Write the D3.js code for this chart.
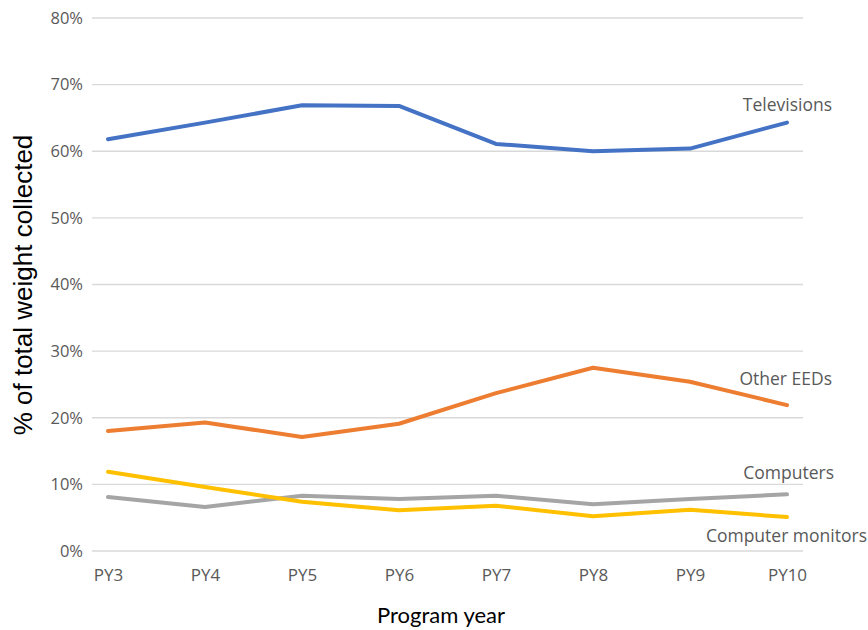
<!DOCTYPE html>
<html><head><meta charset="utf-8">
<script src="https://cdn.jsdelivr.net/npm/d3@7"></script>
<style>body{margin:0;background:#fff}</style>
</head><body><svg id="c" width="868" height="630"></svg>
<script>
const categories = ["PY3","PY4","PY5","PY6","PY7","PY8","PY9","PY10"];
const televisions = [61.8,64.3,66.9,66.8,61.1,60.0,60.4,64.3];
const otherEEDs   = [18.0,19.3,17.1,19.1,23.7,27.5,25.4,21.9];
const computers   = [8.1,6.6,8.3,7.8,8.3,7.0,7.8,8.5];
const monitors    = [11.9,9.6,7.4,6.1,6.8,5.2,6.2,5.1];
const yTicks = [0,10,20,30,40,50,60,70,80];
const seriesNames = ["Televisions","Other EEDs","Computers","Computer monitors"];
const seriesColors = ["#4472C4","#ED7D31","#A5A5A5","#FFC000"];
const seriesData = [televisions, otherEEDs, computers, monitors];

const svg = d3.select("#c");
const font = "'Open Sans', sans-serif";
const x = d3.scalePoint().domain(categories).range([92,803]).padding(0.165);
const y = d3.scaleLinear().domain([0,80]).range([551,18]);

// gridlines
svg.append("g").selectAll("line").data(yTicks).join("line")
  .attr("x1",92).attr("x2",803).attr("y1",d=>y(d)).attr("y2",d=>y(d))
  .attr("stroke","#d9d9d9").attr("stroke-width",1.3);

// y axis labels
const ya = svg.append("g").attr("transform","translate(83,0)")
  .call(d3.axisLeft(y).tickValues(yTicks).tickFormat(d=>d+"%").tickSize(0).tickPadding(0));
ya.select(".domain").remove();
ya.selectAll("text").attr("font-family",font).attr("font-size",16.5).attr("fill","#595959");

// x axis labels
const xa = svg.append("g").attr("transform","translate(0,575)")
  .call(d3.axisBottom(x).tickSize(0).tickPadding(0));
xa.select(".domain").remove();
xa.selectAll("text").attr("font-family",font).attr("font-size",17).attr("fill","#595959")
  .attr("y",0).attr("dy","0.35em");

// lines
const line = d3.line().x((d,i)=>x(categories[i])).y(d=>y(d));
seriesData.forEach((s,k)=>{
  svg.append("path").datum(s).attr("d",line).attr("fill","none")
    .attr("stroke",seriesColors[k]).attr("stroke-width",4)
    .attr("stroke-linejoin","round").attr("stroke-linecap","round");
});

// series labels
const labelPos = [{x:832,y:104},{x:832,y:378},{x:834,y:472},{x:867,y:535}];
seriesNames.forEach((n,k)=>{
  svg.append("text").attr("x",labelPos[k].x).attr("y",labelPos[k].y)
    .attr("text-anchor","end").attr("dominant-baseline","central")
    .attr("font-family",font).attr("font-size",17.5).attr("fill","#595959").text(n);
});

// axis titles
svg.append("text").attr("x",441).attr("y",623).attr("text-anchor","middle")
  .attr("font-family","Lato, 'Open Sans', sans-serif").attr("font-size",22)
  .attr("fill","#000").text("Program year");
svg.append("text").attr("transform","translate(32,285) rotate(-90)").attr("text-anchor","middle")
  .attr("font-family","'Liberation Sans', Arial, sans-serif").attr("font-size",26)
  .attr("fill","#000").text("% of total weight collected");
</script></body></html>
